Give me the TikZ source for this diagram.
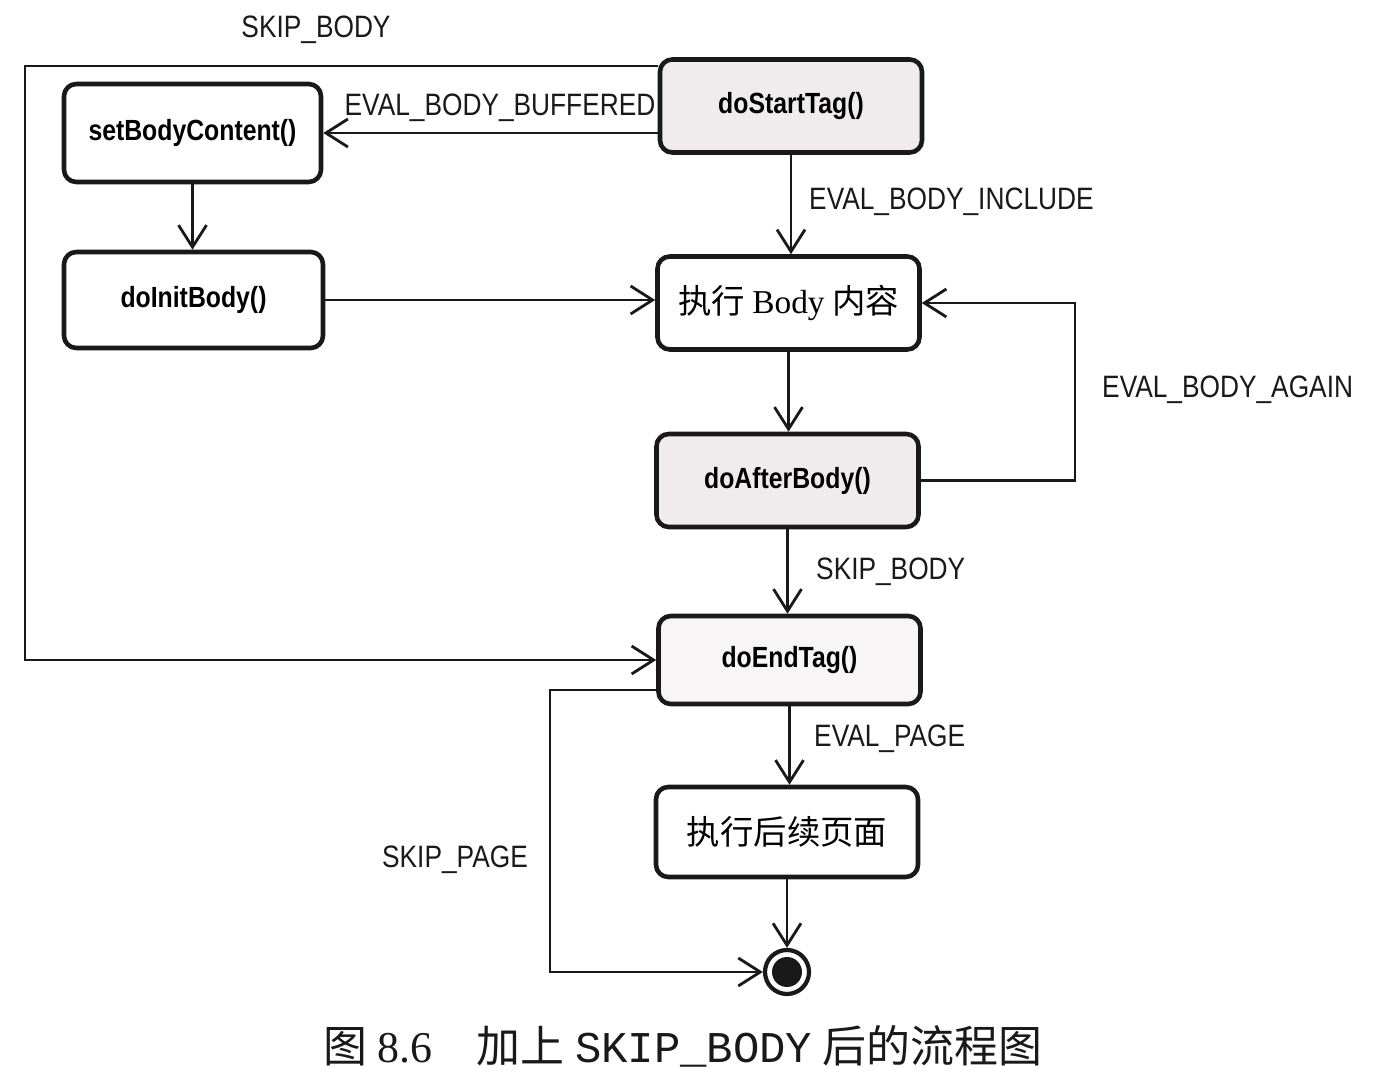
\documentclass[tikz,border=0pt]{standalone}
\usepackage{fontspec}
\setmainfont{Liberation Sans}[FakeStretch=0.85]
\newfontfamily\cjk{Noto Sans CJK SC}
\newfontfamily\serifbody{Liberation Serif}
\newfontfamily\monocap{Liberation Mono}
\usepackage{tikz}
\usetikzlibrary{arrows.meta,positioning,calc}
\definecolor{inkline}{RGB}{25,25,25}
\definecolor{boxgray}{RGB}{240,236,237}
\tikzset{
    state/.style={draw=inkline, rounded corners=3.5pt, line width=1.3pt, fill=white,
        font=\fontsize{8.3}{10}\selectfont\bfseries, minimum width=2.62cm, minimum height=0.93cm},
    grayfill/.style={fill=boxgray},
    cjkstate/.style={state, font=\fontsize{9.5}{11}\selectfont\cjk},
    flow/.style={-{Straight Barb[length=2.2mm, width=2.8mm]}, line width=0.8pt, draw=inkline},
    guard/.style={font=\fontsize{8.8}{10}\selectfont, text=inkline, inner sep=1pt},
    endstate/.style={circle, draw=inkline, line width=1.2pt, minimum size=4.4mm, inner sep=0pt,
        path picture={\fill[inkline] (path picture bounding box.center) circle (1.5mm);}}
}
\begin{document}
\begin{tikzpicture}
    \useasboundingbox (0,0) rectangle (13.76,-10.8);
    % States on the right column
    \node[state, grayfill] (start) at (7.91,-1.06) {doStartTag()};
    \node[cjkstate] (body) at (7.885,-3.03) {执行 {\serifbody Body} 内容};
    \node[state, grayfill] (after) at (7.875,-4.805) {doAfterBody()};
    \node[state, fill=boxgray!50, minimum height=0.88cm] (endtag) at (7.895,-6.60) {doEndTag()};
    \node[cjkstate, minimum height=0.90cm] (page) at (7.87,-8.32) {执行后续页面};
    \node[endstate] (final) at (7.87,-9.72) {};

    % States on the left column
    \node[state, minimum width=2.57cm, minimum height=0.98cm] (setbc) at (1.925,-1.33) {setBodyContent()};
    \node[state, minimum width=2.59cm, minimum height=0.96cm] (initb) at (1.935,-3.00) {doInitBody()};

    % Corner points of the outer loops
    \coordinate (lx) at (0.25,0);
    \coordinate (rx) at (10.75,0);
    \coordinate (px) at (5.50,0);

    % doStartTag branches
    \draw[flow] (start.west |- setbc.east) -- (setbc.east);
    \node[guard] at (5.00,-1.08) {EVAL\_BODY\_BUFFERED};
    \draw[flow] (start.south) -- (start.south |- body.north);
    \node[guard, anchor=west] at (8.05,-2.02) {EVAL\_BODY\_INCLUDE};
    \draw[flow] ([yshift=0.40cm]start.west) -- ([yshift=0.40cm]start.west -| lx)
        -- (endtag.west -| lx) -- (endtag.west);
    \node[guard] at (3.16,-0.30) {SKIP\_BODY};

    % Left column
    \draw[flow] (setbc.south) -- (setbc.south |- initb.north);
    \draw[flow] (initb.east) -- (initb.east -| body.west);

    % Body loop
    \draw[flow] (body.south) -- (body.south |- after.north);
    \draw[flow] (after.east) -- (after.east -| rx) -- (body.east -| rx) -- (body.east);
    \node[guard, anchor=west] at (10.98,-3.90) {EVAL\_BODY\_AGAIN};
    \draw[flow] (after.south) -- (after.south |- endtag.north);
    \node[guard, anchor=west] at (8.12,-5.72) {SKIP\_BODY};

    % doEndTag branches
    \draw[flow] (endtag.south) -- (endtag.south |- page.north);
    \node[guard, anchor=west] at (8.10,-7.39) {EVAL\_PAGE};
    \draw[flow] ([yshift=-0.30cm]endtag.west) -- ([yshift=-0.30cm]endtag.west -| px)
        -- (final.west -| px) -- (final.west);
    \node[guard, anchor=east] at (5.32,-8.60) {SKIP\_PAGE};
    \draw[flow] (page.south) -- (final.north);

    % Caption
    \node[font=\fontsize{12.5}{14}\selectfont, text=inkline] (cap) at (6.83,-10.46)
        {{\cjk 图} {\serifbody 8.6}\quad{\cjk 加上} {\monocap SKIP\_BODY} {\cjk 后的流程图}};
\end{tikzpicture}
\end{document}
